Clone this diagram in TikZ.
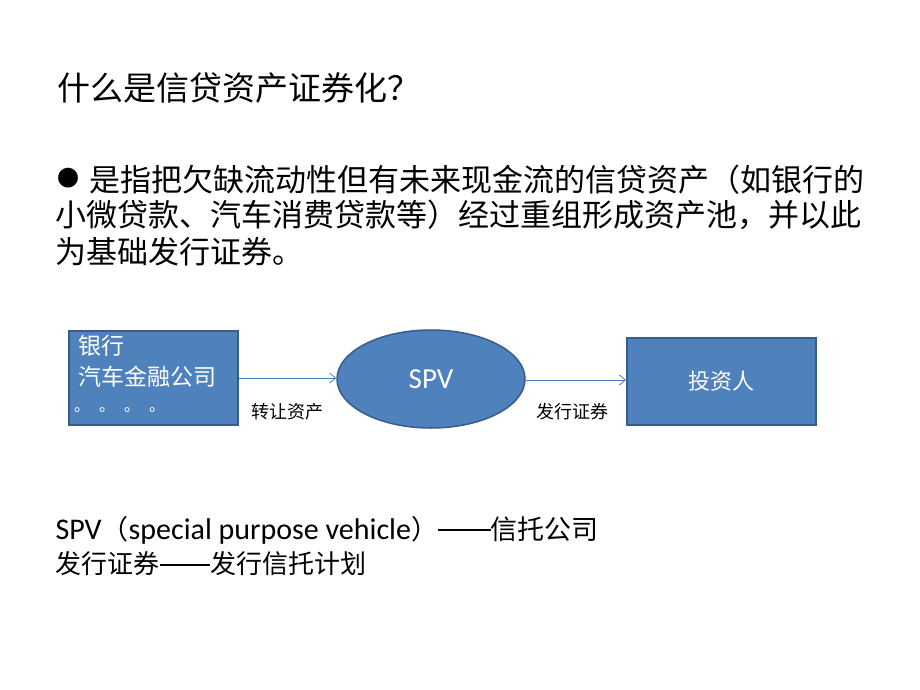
\documentclass[tikz,border=0pt]{standalone}
\usepackage{fontspec}
\setmainfont{Carlito}
\newfontfamily\cjk{Noto Sans CJK SC}
\definecolor{bfill}{HTML}{4F81BD}
\definecolor{bdraw}{HTML}{385D8A}
\definecolor{arr}{HTML}{4A7EBB}
\usetikzlibrary{shapes.geometric,arrows.meta}
\newcommand{\emdashes}{\raisebox{0.32em}{\rule{0.98em}{1.2pt}}\raisebox{0.32em}{\rule{0.98em}{1.2pt}}}
\begin{document}
\begin{tikzpicture}[x=1pt,y=-1pt,
 box/.style={draw=bdraw,line width=1.5pt,fill=bfill,text=white},
 conn/.style={draw=arr,line width=0.8pt,-{Straight Barb[length=6pt,width=10pt]}},
 lab/.style={font=\cjk\fontsize{18}{20}\selectfont,anchor=center}]
\useasboundingbox (0,0) rectangle (920,690);
\fill[white] (0,0) rectangle (920,690);
\node[anchor=west,font=\cjk\fontsize{33}{36}\selectfont] (title) at (54,88) {什么是信贷资产证券化？};
\node[anchor=west,font=\cjk\fontsize{22}{36}\selectfont] (b0) at (54,178) {●};
\node[anchor=west,font=\cjk\fontsize{31}{36}\selectfont] (b1) at (86,180) {是指把欠缺流动性但有未来现金流的信贷资产（如银行的};
\node[anchor=west,font=\cjk\fontsize{31}{36}\selectfont] (b2) at (52,215) {小微贷款、汽车消费贷款等）经过重组形成资产池，并以此};
\node[anchor=west,font=\cjk\fontsize{31}{36}\selectfont] (b3) at (52,252) {为基础发行证券。};
\node[box,minimum width=169pt,minimum height=94pt,anchor=north west] (L) at (68,330) {};
\node[anchor=north west,text=white,font=\cjk\fontsize{23}{31}\selectfont,align=left,inner sep=0pt] (Lt) at (78,335) {银行\\汽车金融公司};
\node[anchor=west,text=white,font=\cjk\fontsize{16}{16}\selectfont,inner sep=0pt] (Ld) at (74,410) {。\hspace{9pt}。\hspace{9pt}。\hspace{9pt}。};
\node[box,ellipse,minimum width=188pt,minimum height=98pt,font=\fontsize{29}{32}\selectfont] (S) at (431,379) {SPV};
\node[box,minimum width=189pt,minimum height=87pt,anchor=north west,font=\cjk\fontsize{22}{26}\selectfont] (R) at (626,337) {投资人};
\draw[conn] (L.east |- 0,378) -- (S.west |- 0,378);
\draw[conn] (S.east |- 0,380) -- (R.west |- 0,380);
\node[lab] (l1) at (287,412) {转让资产};
\node[lab] (l2) at (572,412) {发行证券};
\node[anchor=west,font=\fontsize{30}{32}\selectfont] (n1) at (52,530) {SPV{\cjk\fontsize{27}{32}\selectfont（}special purpose vehicle{\cjk\fontsize{27}{32}\selectfont）\emdashes 信托公司}};
\node[anchor=west,font=\cjk\fontsize{26}{32}\selectfont] (n2) at (52,564) {发行证券\emdashes 发行信托计划};
\end{tikzpicture}
\end{document}
